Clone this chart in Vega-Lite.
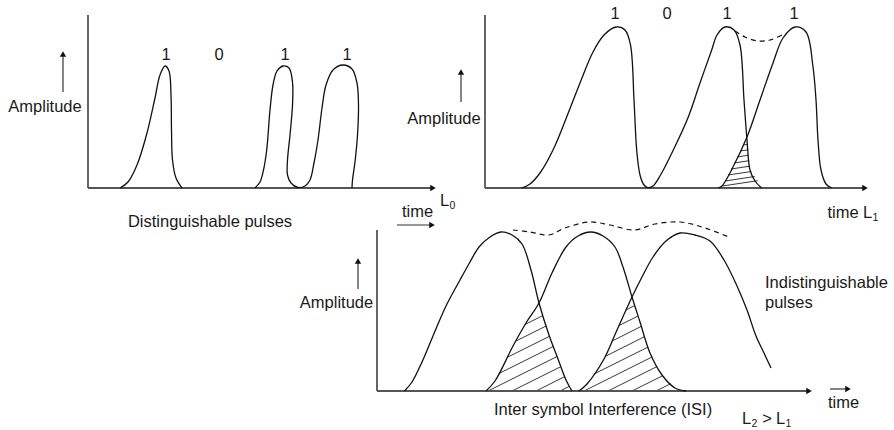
{
  "$schema": "https://vega.github.io/schema/vega-lite/v6.json",
  "width": 894,
  "height": 430,
  "padding": 0,
  "autosize": {"type": "none"},
  "background": "white",
  "config": {"view": {"stroke": null}, "font": "Liberation Sans"},
  "datasets": {
    "curves": [
      {"id":"tl1","o":1,"x":120,"y":188},{"id":"tl1","o":2,"x":128,"y":182},{"id":"tl1","o":3,"x":137,"y":165},{"id":"tl1","o":4,"x":147,"y":133},{"id":"tl1","o":5,"x":155,"y":98},{"id":"tl1","o":6,"x":160,"y":75},{"id":"tl1","o":7,"x":165,"y":66},{"id":"tl1","o":8,"x":169,"y":71},{"id":"tl1","o":9,"x":171,"y":95},{"id":"tl1","o":10,"x":171.5,"y":130},{"id":"tl1","o":11,"x":172.5,"y":160},{"id":"tl1","o":12,"x":176,"y":178},{"id":"tl1","o":13,"x":182,"y":188},
      {"id":"tl2","o":1,"x":255,"y":188},{"id":"tl2","o":2,"x":260,"y":182},{"id":"tl2","o":3,"x":263.5,"y":170},{"id":"tl2","o":4,"x":266.7,"y":150},{"id":"tl2","o":5,"x":270,"y":110},{"id":"tl2","o":6,"x":273,"y":85},{"id":"tl2","o":7,"x":277,"y":71},{"id":"tl2","o":8,"x":283,"y":66},{"id":"tl2","o":9,"x":289,"y":68},{"id":"tl2","o":10,"x":292.5,"y":82},{"id":"tl2","o":11,"x":292.5,"y":105},{"id":"tl2","o":12,"x":290,"y":135},{"id":"tl2","o":13,"x":287.5,"y":160},{"id":"tl2","o":14,"x":287.5,"y":175},{"id":"tl2","o":15,"x":291,"y":183},{"id":"tl2","o":16,"x":298,"y":187.5},{"id":"tl2","o":17,"x":305,"y":186},{"id":"tl2","o":18,"x":310,"y":180},{"id":"tl2","o":19,"x":314,"y":163},{"id":"tl2","o":20,"x":318,"y":140},{"id":"tl2","o":21,"x":322,"y":108},{"id":"tl2","o":22,"x":326,"y":85},{"id":"tl2","o":23,"x":333,"y":70},{"id":"tl2","o":24,"x":343,"y":65},{"id":"tl2","o":25,"x":352,"y":69},{"id":"tl2","o":26,"x":357,"y":83},{"id":"tl2","o":27,"x":358.5,"y":105},{"id":"tl2","o":28,"x":357.5,"y":135},{"id":"tl2","o":29,"x":355,"y":162},{"id":"tl2","o":30,"x":352.5,"y":180},{"id":"tl2","o":31,"x":352,"y":188},
      {"id":"tra","o":1,"x":521.7,"y":188},{"id":"tra","o":2,"x":530,"y":184},{"id":"tra","o":3,"x":540,"y":173},{"id":"tra","o":4,"x":553,"y":150},{"id":"tra","o":5,"x":566.7,"y":117},{"id":"tra","o":6,"x":580,"y":83},{"id":"tra","o":7,"x":593,"y":52},{"id":"tra","o":8,"x":604,"y":35},{"id":"tra","o":9,"x":616,"y":27},{"id":"tra","o":10,"x":625,"y":30},{"id":"tra","o":11,"x":630.5,"y":45},{"id":"tra","o":12,"x":634,"y":100},{"id":"tra","o":13,"x":636.7,"y":150},{"id":"tra","o":14,"x":640,"y":175},{"id":"tra","o":15,"x":644,"y":185},{"id":"tra","o":16,"x":648.3,"y":188},
      {"id":"trb","o":1,"x":648.3,"y":188},{"id":"trb","o":2,"x":653,"y":186},{"id":"trb","o":3,"x":660,"y":176},{"id":"trb","o":4,"x":673.3,"y":150},{"id":"trb","o":5,"x":688.3,"y":117},{"id":"trb","o":6,"x":700,"y":83},{"id":"trb","o":7,"x":711.7,"y":50},{"id":"trb","o":8,"x":717,"y":35},{"id":"trb","o":9,"x":725,"y":27},{"id":"trb","o":10,"x":734,"y":30},{"id":"trb","o":11,"x":740,"y":45},{"id":"trb","o":12,"x":744,"y":100},{"id":"trb","o":13,"x":747,"y":140},{"id":"trb","o":14,"x":750,"y":170},{"id":"trb","o":15,"x":755,"y":181},{"id":"trb","o":16,"x":761.5,"y":188},
      {"id":"trc","o":1,"x":718.3,"y":188},{"id":"trc","o":2,"x":722,"y":186},{"id":"trc","o":3,"x":733,"y":167},{"id":"trc","o":4,"x":747,"y":137},{"id":"trc","o":5,"x":760,"y":100},{"id":"trc","o":6,"x":773,"y":63},{"id":"trc","o":7,"x":783,"y":38},{"id":"trc","o":8,"x":795,"y":27},{"id":"trc","o":9,"x":806,"y":32},{"id":"trc","o":10,"x":813,"y":67},{"id":"trc","o":11,"x":816,"y":100},{"id":"trc","o":12,"x":818,"y":140},{"id":"trc","o":13,"x":821,"y":170},{"id":"trc","o":14,"x":826,"y":184},{"id":"trc","o":15,"x":831.7,"y":188},
      {"id":"b1","o":1,"x":404.5,"y":391},{"id":"b1","o":2,"x":412,"y":382},{"id":"b1","o":3,"x":422,"y":362},{"id":"b1","o":4,"x":433,"y":336},{"id":"b1","o":5,"x":446,"y":306},{"id":"b1","o":6,"x":460,"y":280},{"id":"b1","o":7,"x":470,"y":262},{"id":"b1","o":8,"x":479,"y":247},{"id":"b1","o":9,"x":490,"y":237},{"id":"b1","o":10,"x":501,"y":232},{"id":"b1","o":11,"x":512,"y":235},{"id":"b1","o":12,"x":522,"y":244},{"id":"b1","o":13,"x":531,"y":270},{"id":"b1","o":14,"x":539,"y":303},{"id":"b1","o":15,"x":549,"y":335},{"id":"b1","o":16,"x":558,"y":359},{"id":"b1","o":17,"x":566,"y":380},{"id":"b1","o":18,"x":572,"y":391},
      {"id":"b2","o":1,"x":486,"y":391},{"id":"b2","o":2,"x":495,"y":381},{"id":"b2","o":3,"x":513,"y":346},{"id":"b2","o":4,"x":526,"y":323},{"id":"b2","o":5,"x":539,"y":303},{"id":"b2","o":6,"x":552,"y":273},{"id":"b2","o":7,"x":566,"y":247},{"id":"b2","o":8,"x":578,"y":236},{"id":"b2","o":9,"x":591,"y":232},{"id":"b2","o":10,"x":603,"y":236},{"id":"b2","o":11,"x":615,"y":247},{"id":"b2","o":12,"x":623,"y":267},{"id":"b2","o":13,"x":632,"y":297},{"id":"b2","o":14,"x":640,"y":322},{"id":"b2","o":15,"x":650,"y":353},{"id":"b2","o":16,"x":662,"y":375},{"id":"b2","o":17,"x":675,"y":388},{"id":"b2","o":18,"x":686,"y":391},
      {"id":"b3","o":1,"x":579,"y":391},{"id":"b3","o":2,"x":587,"y":384},{"id":"b3","o":3,"x":604,"y":359},{"id":"b3","o":4,"x":617,"y":330},{"id":"b3","o":5,"x":632,"y":297},{"id":"b3","o":6,"x":642,"y":277},{"id":"b3","o":7,"x":653,"y":257},{"id":"b3","o":8,"x":666,"y":241},{"id":"b3","o":9,"x":680,"y":233},{"id":"b3","o":10,"x":695,"y":235},{"id":"b3","o":11,"x":710,"y":241},{"id":"b3","o":12,"x":724,"y":260},{"id":"b3","o":13,"x":737,"y":286},{"id":"b3","o":14,"x":747,"y":310},{"id":"b3","o":15,"x":756,"y":336},{"id":"b3","o":16,"x":764,"y":353},{"id":"b3","o":17,"x":771,"y":368}
    ],
    "dashed": [
      {"id":"d1","o":1,"x":735,"y":31},{"id":"d1","o":2,"x":745,"y":37},{"id":"d1","o":3,"x":758,"y":41},{"id":"d1","o":4,"x":770,"y":40},{"id":"d1","o":5,"x":782,"y":35},
      {"id":"d2","o":1,"x":513,"y":230},{"id":"d2","o":2,"x":530,"y":232},{"id":"d2","o":3,"x":549,"y":235},{"id":"d2","o":4,"x":565,"y":228},{"id":"d2","o":5,"x":589,"y":222},{"id":"d2","o":6,"x":610,"y":225},{"id":"d2","o":7,"x":634,"y":230},{"id":"d2","o":8,"x":655,"y":224},{"id":"d2","o":9,"x":680,"y":222},{"id":"d2","o":10,"x":705,"y":228},{"id":"d2","o":11,"x":731,"y":238}
    ],
    "hatch": [
      {"x":743,"y":145,"x2":747.6,"y2":144.3},{"x":740,"y":151,"x2":748.2,"y2":149.8},{"x":737,"y":157,"x2":748.7,"y2":155.2},{"x":734,"y":163,"x2":749.2,"y2":160.7},{"x":731,"y":169,"x2":749.7,"y2":166.2},{"x":728,"y":175,"x2":751.3,"y2":171.5},{"x":725,"y":181,"x2":754.7,"y2":176.5},{"x":722.5,"y":186,"x2":757.5,"y2":180.7},
      {"x":560,"y":391,"x2":569.4,"y2":386.3},{"x":536,"y":391,"x2":564.7,"y2":376.6},{"x":512,"y":391,"x2":560.9,"y2":366.6},{"x":488,"y":391,"x2":557.1,"y2":356.5},{"x":498.8,"y":373.6,"x2":553.3,"y2":346.4},{"x":507.1,"y":357.4,"x2":549.5,"y2":336.3},{"x":515.8,"y":341.1,"x2":546.3,"y2":325.9},{"x":525.2,"y":324.4,"x2":543,"y2":315.5},
      {"x":656,"y":391,"x2":670.7,"y2":383.7},{"x":632,"y":391,"x2":662.7,"y2":375.7},{"x":608,"y":391,"x2":657.3,"y2":366.4},{"x":584,"y":391,"x2":652.2,"y2":356.9},{"x":593.6,"y":374.2,"x2":648.1,"y2":347},{"x":605.2,"y":356.4,"x2":644.7,"y2":336.6},{"x":612.1,"y":341,"x2":641.4,"y2":326.3},{"x":618.9,"y":325.6,"x2":638.1,"y2":316},{"x":625.9,"y":310,"x2":634.7,"y2":305.6}
    ],
    "axes": [
      {"x":88,"y":15,"x2":88,"y2":188},{"x":88,"y":188,"x2":431,"y2":188},
      {"x":485,"y":15,"x2":485,"y2":188},{"x":485,"y":188,"x2":863,"y2":188},
      {"x":377,"y":230,"x2":377,"y2":391},{"x":377,"y":391,"x2":807,"y2":391}
    ],
    "arrows": [
      {"x":63,"y":92,"x2":63,"y2":56},{"x":461,"y":102,"x2":461,"y2":74},{"x":358,"y":289,"x2":358,"y2":263},
      {"x":397,"y":225,"x2":430,"y2":225},{"x":830,"y":389,"x2":846,"y2":389}
    ],
    "heads": [
      {"x":433,"y":188,"dir":"right"},{"x":865,"y":188,"dir":"right"},{"x":809,"y":391,"dir":"right"},{"x":432,"y":225,"dir":"right"},{"x":848,"y":389,"dir":"right"},
      {"x":63,"y":54,"dir":"up"},{"x":461,"y":72,"dir":"up"},{"x":358,"y":261,"dir":"up"}
    ],
    "labels": [
      {"t":"1","x":166,"y":55},{"t":"0","x":219,"y":55},{"t":"1","x":285,"y":55},{"t":"1","x":347,"y":55},
      {"t":"1","x":615,"y":14},{"t":"0","x":667,"y":14},{"t":"1","x":727,"y":14},{"t":"1","x":794,"y":14},
      {"t":"Amplitude","x":45,"y":107},{"t":"Amplitude","x":444,"y":119},{"t":"Amplitude","x":336.5,"y":303},
      {"t":"Distinguishable pulses","x":210,"y":222},
      {"t":"time","x":417.5,"y":212},{"t":"time","x":843,"y":213},{"t":"time","x":843.5,"y":403},
      {"t":"Inter symbol Interference (ISI)","x":603,"y":410},
      {"t":">","x":767,"y":419}
    ],
    "leftlabels": [
      {"t":"Indistinguishable","x":765,"y":283},{"t":"pulses","x":765,"y":303},
      {"t":"L","x":440,"y":201},{"t":"L","x":863,"y":213},{"t":"L","x":742,"y":419},{"t":"L","x":776,"y":419}
    ],
    "subs": [
      {"t":"0","x":449.5,"y":206},{"t":"1","x":872.5,"y":218},{"t":"2","x":751.5,"y":423.5},{"t":"1","x":785.5,"y":423.5}
    ]
  },
  "encoding": {
    "x": {"field":"x","type":"quantitative","scale":{"domain":[0,894],"nice":false,"zero":false},"axis":null},
    "y": {"field":"y","type":"quantitative","scale":{"domain":[0,430],"nice":false,"zero":false,"reverse":true},"axis":null}
  },
  "layer": [
    {
      "data": {"name":"hatch"},
      "mark": {"type":"rule","color":"#222","strokeWidth":0.9},
      "encoding": {"x2":{"field":"x2"},"y2":{"field":"y2"}}
    },
    {
      "data": {"name":"axes"},
      "mark": {"type":"rule","color":"#555","strokeWidth":1.8},
      "encoding": {"x2":{"field":"x2"},"y2":{"field":"y2"}}
    },
    {
      "data": {"name":"arrows"},
      "mark": {"type":"rule","color":"#333","strokeWidth":1.2},
      "encoding": {"x2":{"field":"x2"},"y2":{"field":"y2"}}
    },
    {
      "data": {"name":"heads"},
      "mark": {"type":"point","filled":true,"color":"#111","size":40,"opacity":1},
      "encoding": {
        "shape": {"field":"dir","type":"nominal","scale":{"domain":["right","up"],"range":["triangle-right","triangle-up"]},"legend":null}
      }
    },
    {
      "data": {"name":"curves"},
      "mark": {"type":"line","interpolate":"catmull-rom","color":"#111","strokeWidth":1.3},
      "encoding": {"detail":{"field":"id"},"order":{"field":"o","type":"quantitative"}}
    },
    {
      "data": {"name":"dashed"},
      "mark": {"type":"line","interpolate":"catmull-rom","color":"#111","strokeWidth":1.2,"strokeDash":[5,4]},
      "encoding": {"detail":{"field":"id"},"order":{"field":"o","type":"quantitative"}}
    },
    {
      "data": {"name":"labels"},
      "mark": {"type":"text","fontSize":16.5,"color":"#1a1a1a","align":"center","baseline":"middle"},
      "encoding": {"text":{"field":"t"}}
    },
    {
      "data": {"name":"leftlabels"},
      "mark": {"type":"text","fontSize":16.5,"color":"#1a1a1a","align":"left","baseline":"middle"},
      "encoding": {"text":{"field":"t"}}
    },
    {
      "data": {"name":"subs"},
      "mark": {"type":"text","fontSize":10.5,"color":"#1a1a1a","align":"left","baseline":"middle"},
      "encoding": {"text":{"field":"t"}}
    }
  ]
}
